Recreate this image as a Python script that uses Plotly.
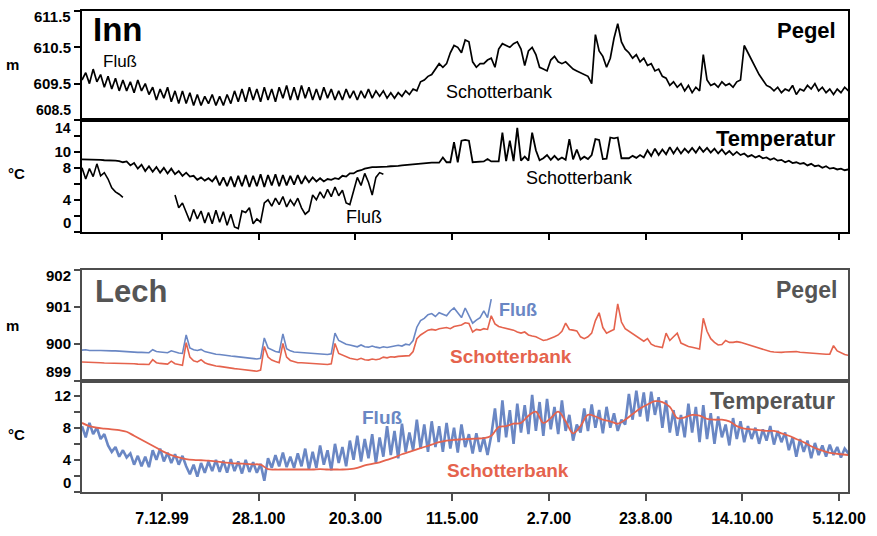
import pandas as pd
import plotly.graph_objects as go

START = "1999-10-25"

# ---------------- data ----------------
# Inn, water level (m), every 2 days from START
INN_PEGEL = [
    609.6, 609.8, 609.5, 609.9, 609.55, 609.75, 609.4, 609.7, 609.35, 609.65,
    609.3, 609.6, 609.3, 609.55, 609.25, 609.6, 609.3, 609.5, 609.2, 609.4,
    609.05, 609.35, 609.1, 609.4, 609.0, 609.3, 608.95, 609.3, 608.95, 609.25,
    608.9, 609.2, 608.9, 609.15, 608.95, 609.2, 608.9, 609.15, 608.9, 609.2,
    608.95, 609.3, 609.0, 609.35, 609.0, 609.4, 609.05, 609.35, 609.0, 609.4,
    609.05, 609.35, 609.0, 609.4, 609.1, 609.45, 609.05, 609.4, 609.05, 609.45,
    609.1, 609.4, 609.05, 609.35, 609.05, 609.4, 609.1, 609.35, 609.05, 609.3,
    609.05, 609.35, 609.1, 609.3, 609.05, 609.3, 609.1, 609.35, 609.1, 609.3,
    609.15, 609.3, 609.1, 609.25, 609.1, 609.25, 609.15, 609.3, 609.2, 609.35,
    609.3, 609.55, 609.6, 609.7, 609.75, 609.9, 610.05, 609.95, 610.05, 610.35,
    610.55, 610.5, 610.35, 610.7, 610.65, 610.1, 609.95, 610.05, 610.05, 610.15,
    610.2, 609.95, 610.45, 610.6, 610.55, 610.5, 610.6, 610.65, 610.45, 610.0,
    610.4, 610.5, 610.3, 609.95, 609.9, 609.85, 610.15, 610.25, 610.1, 610.05,
    610.1, 610.0, 609.9, 609.85, 609.8, 609.75, 609.7, 609.5, 610.85, 610.4,
    610.25, 609.95, 610.2, 610.75, 611.15, 610.65, 610.45, 610.35, 610.2, 610.3,
    610.1, 610.2, 610.0, 610.05, 609.85, 609.9, 609.7, 609.65, 609.45, 609.55,
    609.4, 609.5, 609.3, 609.45, 609.25, 609.4, 609.3, 610.3, 609.6, 609.45,
    609.5, 609.4, 609.55, 609.45, 609.5, 609.4, 609.55, 609.6, 610.55, 610.35,
    610.15, 609.95, 609.75, 609.6, 609.45, 609.4, 609.3, 609.4, 609.25, 609.35,
    609.3, 609.45, 609.2, 609.35, 609.3, 609.45, 609.35, 609.5, 609.3, 609.4,
    609.25, 609.35, 609.2, 609.35, 609.25, 609.4, 609.3,
]

# Inn, temperature (°C) gravel bar, every 2 days
INN_TEMP_SCHOTTER = [
    9.05, 9.05, 9.05, 9.0, 9.0, 9.0, 8.95, 8.95, 8.95, 8.9,
    8.85, 8.7, 8.8, 8.3, 8.6, 7.9, 8.4, 7.6, 8.2, 7.5,
    8.1, 7.4, 8.0, 7.3, 7.9, 7.2, 7.6, 7.0, 7.4, 6.9,
    7.0, 6.5, 6.8, 6.4, 6.7, 6.3, 6.9, 5.8, 6.8, 5.7,
    6.9, 5.6, 7.0, 5.7, 7.1, 5.6, 7.0, 5.7, 7.2, 5.6,
    7.1, 5.8, 7.2, 5.7, 7.1, 5.8, 7.0, 5.9, 7.1, 6.0,
    6.9, 6.2, 6.8, 6.3, 6.7, 6.3, 6.6, 6.5, 6.7, 6.6,
    7.0, 6.9, 7.3, 7.3, 7.6, 7.7, 7.9, 8.0, 8.1, 8.1,
    8.1, 8.1, 8.15, 8.2, 8.2, 8.25, 8.3, 8.35, 8.4, 8.45,
    8.5, 8.55, 8.6, 8.6, 8.65, 8.65, 8.65, 9.3, 8.7, 8.7,
    11.2, 8.7, 11.4, 11.5, 11.4, 8.7, 8.75, 8.75, 8.8, 9.1,
    8.8, 8.8, 8.8, 12.4, 8.85, 11.4, 8.85, 13.0, 8.9, 9.4,
    8.9, 12.4, 10.2, 8.95, 9.2, 9.6, 9.0, 9.5, 9.0, 9.3,
    9.0, 11.6, 9.05, 10.3, 9.05, 9.4, 9.1, 9.6, 11.6, 11.5,
    9.1, 9.15, 11.8, 11.7, 11.8, 9.2, 9.2, 9.2, 9.5, 9.25,
    9.6, 9.3, 10.2, 9.5, 10.4, 9.6, 10.3, 9.7, 10.6, 9.8,
    10.5, 9.8, 10.4, 9.9, 10.5, 9.9, 10.6, 10.0, 10.5, 9.9,
    10.4, 9.8, 10.3, 9.7, 10.1, 9.6, 10.0, 9.6, 9.8, 9.4,
    9.6, 9.3, 9.5, 9.2, 9.3, 9.0, 9.2, 8.9, 9.0, 8.7,
    8.9, 8.6, 8.7, 8.5, 8.6, 8.3, 8.5, 8.2, 8.3, 8.0,
    8.2, 7.9, 8.0, 7.8, 7.9, 7.7, 7.8,
]

# Inn, temperature (°C) river, every 2 days (gap = no data)
INN_TEMP_FLUSS = [
    8.0, 6.6, 7.9, 6.9, 8.5, 7.0, 7.4, 6.6, 5.5, 5.0, 4.7, 4.3,
    None, None, None, None, None, None, None, None, None, None, None, None, None,
    4.6, 3.0, 3.6, 2.5, 1.3, 2.8, 1.6, 2.6, 1.1, 2.4,
    1.0, 2.7, 1.2, 2.5, 0.8, 2.2, 0.6, 0.4, 2.6, 2.4,
    3.0, 1.0, 1.6, 1.2, 3.6, 4.0, 3.2, 4.2, 3.4, 4.4,
    3.1, 4.0, 3.3, 4.2, 3.0, 2.2, 2.6, 4.6, 4.0, 5.0,
    4.2, 5.3, 4.4, 5.6, 4.5, 5.2, 3.6, 3.4, 5.2, 6.8,
    5.8, 7.3, 6.2, 4.6, 6.8, 7.4, 7.2,
]

# Lech, water level (m) river, every 2 days
LECH_PEGEL_FLUSS = [
    899.84, 899.85, 899.83, 899.84, 899.83, 899.83, 899.82, 899.83, 899.82, 899.82,
    899.81, 899.8, 899.8, 899.8, 899.79, 899.78, 899.78, 899.78, 899.77, 899.85,
    899.8, 899.79, 899.78, 899.77, 899.82, 899.78, 899.76, 899.75, 900.25, 899.9,
    899.85, 899.83, 899.86, 899.8, 899.77, 899.75, 899.73, 899.72, 899.7, 899.69,
    899.68, 899.67, 899.66, 899.65, 899.64, 899.63, 899.62, 899.6, 899.62, 900.17,
    899.9, 899.84, 899.8, 899.78, 900.28, 899.88, 899.82, 899.79, 899.78, 899.77,
    899.76, 899.75, 899.74, 899.73, 899.73, 899.72, 899.72, 899.74, 900.3, 900.1,
    900.05, 900.0, 899.98, 899.95, 899.93, 899.98, 899.93, 899.92, 899.95, 899.92,
    899.9, 899.93, 899.91, 899.93, 899.95, 899.97, 899.95, 900.0, 899.98, 900.1,
    900.46, 900.64, 900.7, 900.8, 900.83, 900.75, 900.85, 900.8, 900.77, 900.9,
    900.98, 900.85, 900.72, 900.98, 900.75, 900.57, 900.65, 900.72, 900.9, 900.72,
    901.22,
]

# Lech, water level (m) gravel bar, every 2 days
LECH_PEGEL_SCHOTTER = [
    899.52, 899.52, 899.51, 899.5, 899.5, 899.5, 899.49, 899.49, 899.49, 899.48,
    899.48, 899.48, 899.47, 899.47, 899.47, 899.46, 899.46, 899.46, 899.45, 899.58,
    899.5, 899.48, 899.47, 899.46, 899.54, 899.47, 899.45, 899.43, 900.04, 899.65,
    899.55, 899.52, 899.58, 899.5, 899.46, 899.43, 899.41, 899.4, 899.38, 899.37,
    899.35, 899.34, 899.33, 899.32, 899.31, 899.3, 899.29, 899.27, 899.3, 899.94,
    899.65, 899.57, 899.53, 899.5, 900.02, 899.65, 899.56, 899.52, 899.5, 899.5,
    899.49, 899.48, 899.47, 899.47, 899.46, 899.45, 899.45, 899.47, 900.02, 899.75,
    899.7, 899.65, 899.62, 899.6, 899.58, 899.62, 899.58, 899.57, 899.6, 899.58,
    899.6, 899.65, 899.63, 899.66, 899.65, 899.67, 899.68, 899.7, 899.69, 899.8,
    900.15, 900.25, 900.32, 900.38, 900.4, 900.38, 900.42, 900.43, 900.45, 900.42,
    900.48, 900.5, 900.52, 900.58, 900.56, 900.33, 900.4, 900.38, 900.42, 900.4,
    900.77, 900.55, 900.48, 900.45, 900.43, 900.4, 900.38, 900.33, 900.3, 900.33,
    900.25, 900.22, 900.2, 900.15, 900.1, 900.12, 900.15, 900.2, 900.25, 900.35,
    900.57, 900.4, 900.38, 900.36, 900.2, 900.15, 900.2, 900.3, 900.64, 900.85,
    900.45, 900.3, 900.35, 900.4, 901.09, 900.6, 900.42, 900.35, 900.28, 900.2,
    900.15, 900.08, 900.15, 900.0, 899.95, 899.93, 899.91, 900.3, 900.1, 900.2,
    900.3, 900.03, 899.98, 899.94, 899.92, 899.9, 899.87, 900.7, 900.35, 900.15,
    900.05, 899.98, 899.99, 900.1, 900.05, 900.05, 900.07, 900.05, 900.02, 899.99,
    899.95, 899.92, 899.88, 899.85, 899.82, 899.8, 899.79, 899.78, 899.78, 899.79,
    899.8, 899.81, 899.8, 899.78, 899.77, 899.78, 899.77, 899.76, 899.75, 899.74,
    899.73, 899.73, 899.96, 899.82, 899.76, 899.72, 899.7,
]

# Lech, temperature (°C) river, every 2 days
LECH_TEMP_FLUSS = [
    8.2, 6.8, 8.6, 7.2, 8.0, 6.6, 7.2, 5.8, 5.0, 5.6,
    4.4, 5.2, 4.3, 4.8, 3.4, 4.5, 3.2, 4.4, 3.1, 5.2,
    4.0, 5.4, 3.8, 4.9, 3.6, 4.7, 3.4, 4.5, 3.2, 2.2,
    3.4, 1.9, 3.6, 2.4, 3.8, 2.6, 4.0, 2.5, 3.9, 2.4,
    4.1, 2.6, 3.8, 2.3, 4.0, 2.5, 3.7, 2.4, 3.5, 1.4,
    4.2, 3.0, 4.6, 3.2, 4.9, 3.1, 4.4, 3.0, 4.8, 3.2,
    5.4, 2.8, 5.0, 3.0, 5.8, 3.4, 5.2, 2.7, 6.0, 3.6,
    5.6, 3.2, 6.4, 4.0, 7.0, 3.8, 6.6, 4.2, 7.2, 3.6,
    6.8, 4.4, 8.2, 4.6, 7.6, 4.2, 8.5, 5.0, 7.4, 5.2,
    9.0, 5.4, 8.4, 5.0, 8.8, 5.6, 8.2, 5.0, 8.6, 5.4,
    8.0, 4.9, 8.4, 5.6, 7.2, 4.8, 7.3, 5.0, 6.8, 4.6,
    7.0, 10.4, 6.2, 11.4, 6.8, 10.2, 6.0, 11.0, 7.4, 10.8,
    7.2, 12.1, 7.6, 11.2, 7.0, 11.6, 7.8, 10.6, 7.2, 11.4,
    7.6, 9.6, 6.4, 8.4, 7.4, 10.4, 7.6, 10.9, 8.0, 10.2,
    7.3, 10.6, 8.0, 9.8, 7.6, 9.0, 8.4, 12.2, 9.0, 12.6,
    9.4, 12.4, 8.8, 12.5, 9.6, 11.8, 8.0, 11.4, 7.4, 10.2,
    7.0, 9.6, 6.8, 11.0, 7.4, 10.6, 6.2, 10.8, 6.6, 9.8,
    6.0, 9.4, 6.8, 8.4, 5.8, 9.2, 6.6, 8.8, 6.2, 8.2,
    6.6, 8.0, 6.0, 7.8, 6.4, 8.2, 5.9, 7.6, 6.2, 7.4,
    5.2, 6.8, 4.4, 6.6, 5.0, 6.4, 4.2, 6.1, 4.6, 5.8,
    4.4, 5.9, 4.6, 5.6, 4.3, 5.4, 4.8,
]

# Lech, temperature (°C) gravel bar, every 4 days
LECH_TEMP_SCHOTTER = [
    8.6, 8.2, 8.0, 7.9, 7.8, 7.7, 7.5, 7.0, 6.5, 6.0,
    5.5, 5.0, 4.6, 4.3, 4.1, 4.0, 3.95, 3.9, 3.8, 3.7,
    3.6, 3.55, 3.5, 3.45, 3.4, 2.85, 2.8, 2.8, 2.8, 2.8,
    2.8, 2.8, 2.85, 2.8, 2.8, 2.8, 2.85, 3.0, 3.3, 3.5,
    3.7, 4.0, 4.3, 4.7, 5.0, 5.3, 5.6, 5.9, 6.2, 6.4,
    6.5, 6.55, 6.6, 6.65, 6.7, 7.0, 8.1, 8.2, 8.5, 8.6,
    9.5, 10.0, 8.6, 9.2, 10.0, 8.8, 7.3, 8.2, 9.6, 9.4,
    9.0, 8.8, 8.5, 9.0, 9.7, 10.4, 10.9, 11.3, 11.2, 10.6,
    9.2, 9.3, 9.6, 9.5, 9.1, 9.0, 9.0, 8.8, 8.2, 7.9,
    7.8, 7.7, 7.6, 7.6, 7.3, 7.0, 6.6, 6.2, 5.7, 5.3,
    5.0, 4.8, 4.7, 4.6,
]

TICK_DATES = ["1999-12-07", "2000-01-28", "2000-03-20", "2000-05-11",
              "2000-07-02", "2000-08-23", "2000-10-14", "2000-12-05"]
TICK_LABELS = ["7.12.99", "28.1.00", "20.3.00", "11.5.00",
               "2.7.00", "23.8.00", "14.10.00", "5.12.00"]
X_RANGE = ["1999-10-25", "2000-12-09 19:00"]


def dates(n, step):
    return pd.date_range(START, periods=n, freq=f"{step}D")


# ---------------- styling ----------------
W, H = 877, 536
ML, MR, MT, MB = 82, 29, 9, 28
PW, PH = W - ML - MR, H - MT - MB
FONT = "Liberation Sans, Arial, sans-serif"
BLUE = "#6a87c4"
RED = "#e5634d"
LECH_GREY = "#4d4d4d"
TXT_GREY = "#555555"


def fx(px):
    return (px - ML) / PW


def fy(py):
    return (H - MB - py) / PH


fig = go.Figure()

fig.add_trace(go.Scatter(x=dates(len(INN_PEGEL), 2), y=INN_PEGEL, xaxis="x4", yaxis="y4",
                         mode="lines", line=dict(color="black", width=1.7), name="Inn Pegel"))
fig.add_trace(go.Scatter(x=dates(len(INN_TEMP_SCHOTTER), 2), y=INN_TEMP_SCHOTTER, xaxis="x3", yaxis="y3",
                         mode="lines", line=dict(color="black", width=1.8), name="Inn Schotterbank"))
fig.add_trace(go.Scatter(x=dates(len(INN_TEMP_FLUSS), 2), y=INN_TEMP_FLUSS, xaxis="x3", yaxis="y3",
                         mode="lines", connectgaps=False, line=dict(color="black", width=1.6),
                         name="Inn Fluß"))
fig.add_trace(go.Scatter(x=dates(len(LECH_PEGEL_FLUSS), 2), y=LECH_PEGEL_FLUSS, xaxis="x2", yaxis="y2",
                         mode="lines", line=dict(color=BLUE, width=1.6), name="Lech Fluß Pegel"))
fig.add_trace(go.Scatter(x=dates(len(LECH_PEGEL_SCHOTTER), 2), y=LECH_PEGEL_SCHOTTER, xaxis="x2", yaxis="y2",
                         mode="lines", line=dict(color=RED, width=1.6), name="Lech Schotterbank Pegel"))
fig.add_trace(go.Scatter(x=dates(len(LECH_TEMP_FLUSS), 2), y=LECH_TEMP_FLUSS, xaxis="x", yaxis="y",
                         mode="lines", line=dict(color=BLUE, width=2.6), name="Lech Fluß Temp"))
fig.add_trace(go.Scatter(x=dates(len(LECH_TEMP_SCHOTTER), 4), y=LECH_TEMP_SCHOTTER, xaxis="x", yaxis="y",
                         mode="lines", line=dict(color=RED, width=1.8, shape="spline"),
                         name="Lech Schotterbank Temp"))

tickfont = dict(family=FONT, size=15, color="black", weight="bold")

xcommon = dict(type="date", range=X_RANGE, showgrid=False, zeroline=False,
               showline=True, mirror=True, tickvals=TICK_DATES, ticktext=TICK_LABELS)
ycommon = dict(showgrid=False, zeroline=False, showline=True, mirror=True,
               ticks="outside", ticklen=6, tickwidth=1.5, tickfont=tickfont)

fig.update_layout(
    width=W, height=H,
    margin=dict(l=ML, r=MR, t=MT, b=MB),
    paper_bgcolor="white", plot_bgcolor="white",
    showlegend=False,
    font=dict(family=FONT),
    xaxis=dict(**xcommon, anchor="y", domain=[0, 1], ticks="outside", ticklen=7, tickwidth=1.5,
               tickcolor=LECH_GREY, linecolor=LECH_GREY, linewidth=2, ticklabelstandoff=4,
               tickfont=dict(family=FONT, size=16, color="black", weight="bold")),
    xaxis2=dict(**xcommon, anchor="y2", matches="x", ticks="", showticklabels=False,
                linecolor=LECH_GREY, linewidth=2),
    xaxis3=dict(**xcommon, anchor="y3", matches="x", ticks="outside", ticklen=6, tickwidth=1.5,
                tickcolor="black", showticklabels=False, linecolor="black", linewidth=1.8),
    xaxis4=dict(**xcommon, anchor="y4", matches="x", ticks="", showticklabels=False,
                linecolor="black", linewidth=1.8),
    yaxis=dict(**ycommon, anchor="x", domain=[0, fy(393)], range=[0, 13.8],
               tickvals=[0, 2, 4, 6, 8, 10, 12], ticktext=["", "", "4", "", "8", "", "12"],
               linecolor=LECH_GREY, linewidth=2, tickcolor=LECH_GREY),
    yaxis2=dict(**ycommon, anchor="x2", domain=[fy(393), fy(278)], range=[899, 902],
                tickvals=[899, 900, 901, 902], ticktext=["", "900", "901", ""],
                linecolor=LECH_GREY, linewidth=2, tickcolor=LECH_GREY),
    yaxis3=dict(**ycommon, anchor="x3", domain=[fy(238), fy(122)], range=[0, 14],
                tickvals=[0, 2, 4, 6, 8, 10, 12, 14],
                ticktext=["", "", "4", "", "8", "10", "", ""],
                linecolor="black", linewidth=1.8, tickcolor="black"),
    yaxis4=dict(**ycommon, anchor="x4", domain=[fy(122), 1], range=[608.5, 611.5],
                tickvals=[608.5, 609.5, 610.5, 611.5], ticktext=["", "609.5", "610.5", ""],
                linecolor="black", linewidth=1.8, tickcolor="black"),
)

annotations = []


def ann(text, px, py, size, color="black", bold=True, xanchor="center"):
    annotations.append(dict(
        text=text, xref="paper", yref="paper", x=fx(px), y=fy(py),
        xanchor=xanchor, yanchor="middle", showarrow=False,
        font=dict(family=FONT, size=size, color=color, weight="bold" if bold else "normal")))


# end-of-axis tick labels (nudged inside as in the original)
for t, py, s in [("611.5", 15, 15), ("608.5", 112, 14), ("14", 130, 14), ("0", 228, 15),
                 ("902", 283, 15), ("899", 383, 15), ("0", 498, 15)]:
    ann(t, 73, py, s, xanchor="right")

# axis unit labels
ann("m", 12, 65, 15)
ann("°C", 16, 178, 15)
ann("m", 12, 335, 15)
ann("°C", 16, 448, 15)

# Inn panel texts
ann("Inn", 117, 28, 33)
ann("Pegel", 806, 29, 22)
ann("Temperatur", 776, 141, 22)
ann("Fluß", 120, 61, 17, bold=False)
ann("Schotterbank", 500, 93, 18, bold=False)
ann("Schotterbank", 579, 182, 18, bold=False)
ann("Fluß", 364, 223, 18, bold=False)

# Lech panel texts
ann("Lech", 131, 300, 31, color=TXT_GREY)
ann("Pegel", 806, 298, 23, color=TXT_GREY)
ann("Temperatur", 772, 414, 23, color=TXT_GREY)
ann("Fluß", 518, 319, 18, color=BLUE)
ann("Schotterbank", 511, 367, 19, color=RED)
ann("Fluß", 382, 431, 19, color=BLUE)
ann("Schotterbank", 508, 486, 19, color=RED)

fig.update_layout(annotations=annotations)

fig.write_html("out.html")
